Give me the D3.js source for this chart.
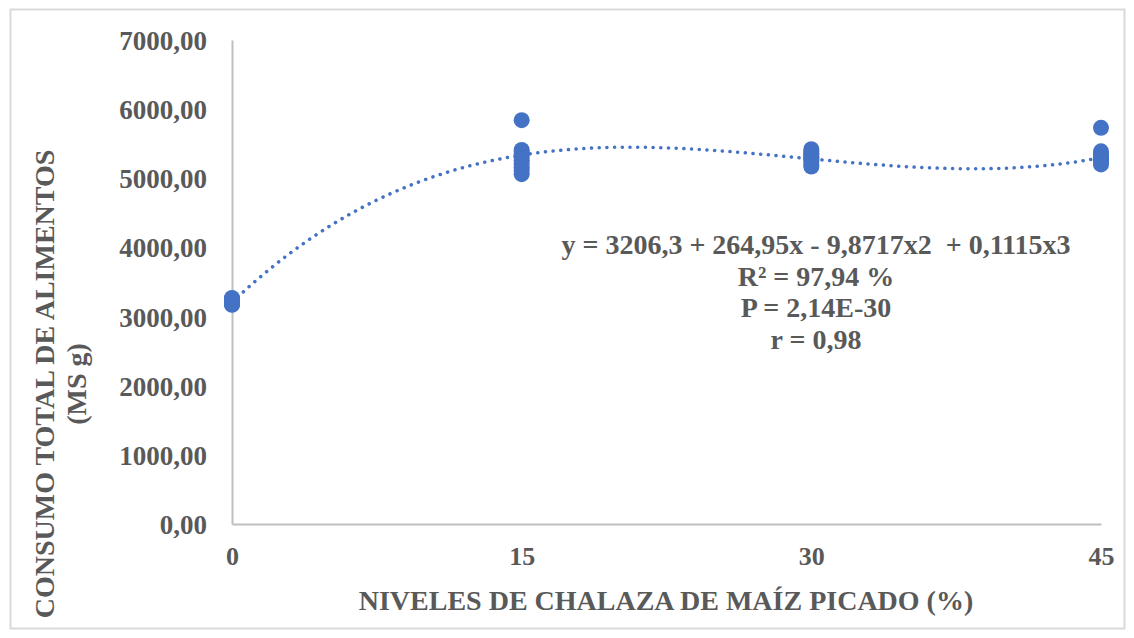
<!DOCTYPE html>
<html>
<head>
<meta charset="utf-8">
<script src="https://cdn.jsdelivr.net/npm/d3@7"></script>
<style>
  html, body { margin: 0; padding: 0; background: #fff; }
  svg { display: block; }
  text { font-family: "Liberation Serif", "Times New Roman", serif; font-weight: bold; fill: #595959; white-space: pre; }
</style>
</head>
<body>
<svg id="chart" width="1134" height="638"></svg>
<script>
// Chalaza levels (%) and total feed intake (MS g) per replicate
const levels = [0, 15, 30, 45];
const intake0  = [3170, 3200, 3230, 3250, 3270, 3190, 3220, 3180, 3260, 3210];
const intake15 = [5840, 5410, 5380, 5350, 5300, 5260, 5210, 5160, 5110, 5060];
const intake30 = [5420, 5390, 5360, 5350, 5310, 5300, 5270, 5240, 5200, 5170];
const intake45 = [5730, 5390, 5350, 5320, 5310, 5290, 5270, 5260, 5230, 5200];
const intakeByLevel = [intake0, intake15, intake30, intake45];

// Cubic fit coefficients: y = c0 + c1 x + c2 x^2 + c3 x^3
const fitCoef = [3206.3, 264.95, -9.8717, 0.1115];

const yTicks = [0, 1000, 2000, 3000, 4000, 5000, 6000, 7000];
const xTicks = [0, 15, 30, 45];
const statLines = [
  "y = 3206,3 + 264,95x - 9,8717x2  + 0,1115x3",
  "R² = 97,94 %",
  "P = 2,14E-30",
  "r = 0,98"
];

const svg = d3.select("#chart");
const blue = "#4472C4";

// chart border
svg.append("rect")
  .attr("x", 10.5).attr("y", 9.5)
  .attr("width", 1114).attr("height", 619)
  .attr("fill", "none").attr("stroke", "#D9D9D9").attr("stroke-width", 2);

const x = d3.scaleLinear().domain([0, 45]).range([232, 1101]);
const y = d3.scaleLinear().domain([0, 7000]).range([524, 40]);

const fmt = v => d3.format(".2f")(v).replace(".", ",");

// y axis
const yAxis = svg.append("g").attr("transform", "translate(232,0)")
  .call(d3.axisLeft(y).tickValues(yTicks).tickFormat(fmt).tickSize(0).tickPadding(25));
yAxis.select(".domain").attr("stroke", "#BFBFBF").attr("stroke-width", 2);
yAxis.selectAll("text").style("font-size", "27px").attr("dy", "0.35em")
  .attr("font-family", null).attr("fill", "#595959");

// x axis
const xAxis = svg.append("g").attr("transform", "translate(0,524)")
  .call(d3.axisBottom(x).tickValues(xTicks).tickFormat(d3.format("d")).tickSize(0).tickPadding(23));
xAxis.select(".domain").attr("stroke", "#BFBFBF").attr("stroke-width", 2);
xAxis.selectAll("text").style("font-size", "26px").attr("dy", "0.7em")
  .attr("font-family", null).attr("fill", "#595959");

// axis titles
svg.append("text")
  .attr("x", 666).attr("y", 610)
  .attr("text-anchor", "middle")
  .style("font-size", "28px")
  .text("NIVELES DE CHALAZA DE MAÍZ PICADO (%)");

const yTitle = svg.append("text")
  .attr("transform", "translate(0,384) rotate(-90)")
  .attr("text-anchor", "middle")
  .style("font-size", "28px");
yTitle.append("tspan").attr("x", 0).attr("y", 54).text("CONSUMO TOTAL DE ALIMENTOS");
yTitle.append("tspan").attr("x", 0).attr("y", 86).text("(MS g)");

// points
const pts = [];
levels.forEach((lv, i) => intakeByLevel[i].forEach(v => pts.push({ lv, v })));
svg.append("g").selectAll("circle").data(pts).join("circle")
  .attr("cx", d => x(d.lv)).attr("cy", d => y(d.v))
  .attr("r", 8).attr("fill", blue);

// cubic trend line
const poly = t => fitCoef.reduce((s, c, k) => s + c * Math.pow(t, k), 0);
const trendX = d3.range(0, 45.001, 0.25);
svg.append("path")
  .datum(trendX)
  .attr("d", d3.line().x(t => x(t)).y(t => y(poly(t))))
  .attr("fill", "none").attr("stroke", blue)
  .attr("stroke-width", 3.5).attr("stroke-linecap", "round")
  .attr("stroke-dasharray", "0.1 7.6");

// regression statistics
svg.append("g").selectAll("text").data(statLines).join("text")
  .attr("x", 816).attr("y", (d, i) => 254 + i * 31.5)
  .attr("text-anchor", "middle")
  .style("font-size", "28px")
  .text(d => d);
</script>
</body>
</html>
